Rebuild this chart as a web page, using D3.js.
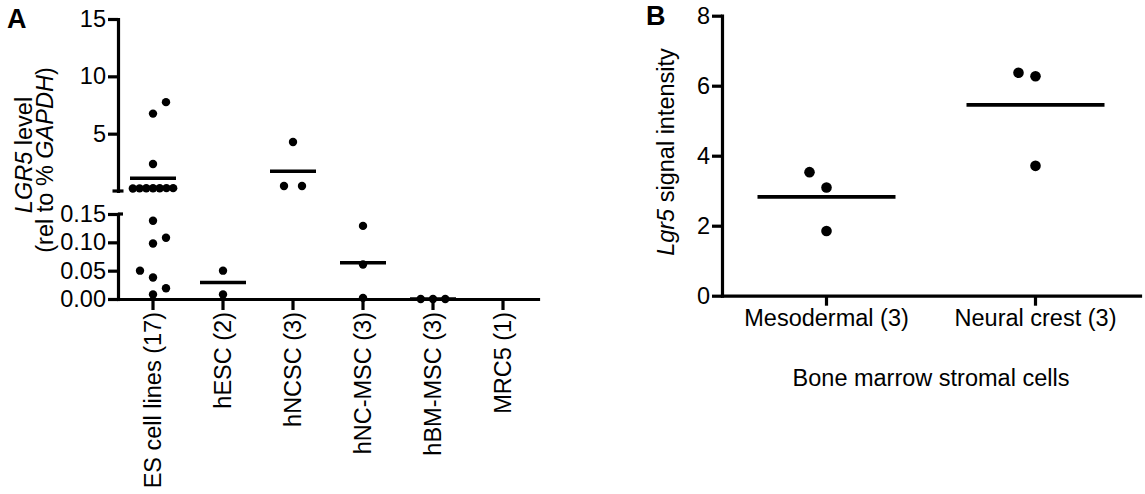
<!DOCTYPE html>
<html>
<head>
<meta charset="utf-8">
<script src="https://cdn.jsdelivr.net/npm/d3@7"></script>
<style>
  body { margin: 0; background: #fff; }
  text { font-family: "Liberation Sans", Arial, sans-serif; fill: #000; }
</style>
</head>
<body>
<div id="chart"></div>
<script>
// panel A: LGR5 level per group (rel to % GAPDH)
let catsA = ["ES cell lines (17)", "hESC (2)", "hNCSC (3)", "hNC-MSC (3)", "hBM-MSC (3)", "MRC5 (1)"];
let esLines = [0.008, 0.019, 0.038, 0.05, 0.098, 0.108, 0.138,
               0.24, 0.23, 0.25, 0.24, 0.22, 0.25, 0.24, 2.35, 6.75, 7.75];
let hESC = [0.008, 0.05];
let hNCSC = [0.44, 0.44, 4.27];
let hNCMSC = [0.002, 0.061, 0.129];
let hBMMSC = [0, 0, 0];
let mrc5 = []; // not detected
let valuesA = [esLines, hESC, hNCSC, hNCMSC, hBMMSC, mrc5];
let ticksHigh = [5, 10, 15];
let ticksLow = [0, 0.05, 0.10, 0.15];

// panel B: Lgr5 signal intensity, bone marrow stromal cells
let catsB = ["Mesodermal (3)", "Neural crest (3)"];
let mesodermal = [1.85, 3.09, 3.53];
let neuralCrest = [3.71, 6.27, 6.37];
let valuesB = [mesodermal, neuralCrest];
let ticksB = [0, 2, 4, 6, 8];

let width = 1145;
let height = 494;
let fontSize = "23.5px";
let lw = 3.2;

let svg = d3.select("#chart").append("svg")
    .attr("width", width)
    .attr("height", height);

function translate (x, y) {
    return `translate(${ x }, ${ y })`;
}

// spread the dots of one column so they do not sit on top of each other
function swarm (vals, y, step, minDist, first) {
    let pts = vals.map(v => ({ v: v, y: y(v), dx: 0 }));
    pts.sort((a, b) => a.v - b.v);
    let placed = [];
    let nearest = (c, yy) => d3.min(placed, q => Math.hypot(q.dx - c, q.y - yy)) ?? Infinity;
    // how crowded a spot is
    let crowd = (c, yy) => d3.sum(placed, q => {
        let d = Math.hypot(q.dx - c, q.y - yy);
        return d < 30 ? 1 / d : 0;
    });
    let i = 0;
    while (i < pts.length) {
        let j = i;
        while (j + 1 < pts.length && Math.abs(pts[j + 1].y - pts[i].y) < 2.5) j++;
        let n = j - i + 1;
        if (n > 1) {
            let sp = 18 / Math.pow(n - 1, 0.55);
            for (let k = 0; k < n; k++) {
                pts[i + k].dx = (k - (n - 1) / 2) * sp;
                placed.push(pts[i + k]);
            }
        } else {
            let p = pts[i];
            if (nearest(0, p.y) >= minDist) {
                p.dx = 0;
            } else {
                for (let s = 1; s <= 3; s++) {
                    let a = first * step * s, b = -a;
                    if (nearest(a, p.y) < minDist && nearest(b, p.y) < minDist) continue;
                    p.dx = (crowd(b, p.y) < crowd(a, p.y) - 0.005) ? b : a;
                    break;
                }
            }
            placed.push(p);
        }
        i = j + 1;
    }
    return pts;
}

function styleAxis (g) {
    g.select(".domain").attr("stroke-width", lw).attr("stroke-linecap", "square");
    g.selectAll(".tick line").attr("stroke-width", lw);
    g.selectAll(".tick text").style("font-size", fontSize).attr("fill", "#000");
    g.attr("font-family", null);
}

function italicLabel (g, x, y, parts) {
    let t = g.append("text")
        .attr("transform", translate(x, y) + " rotate(-90)")
        .attr("text-anchor", "middle")
        .style("font-size", fontSize);
    parts.forEach(p => {
        t.append("tspan").attr("font-style", p[1] ? "italic" : "normal").text(p[0]);
    });
}

// ---------- panel A ----------
let axA = 118;
let xA = d3.scaleBand().domain(catsA).range([axA, 538]);
let yHigh = d3.scaleLinear().domain([0, 15]).range([191, 19]);
let yLow = d3.scaleLinear().domain([0, 0.15]).range([299, 214]);
let yA = v => v <= 0.15 ? yLow(v) : yHigh(v);

let gA = svg.append("g");

gA.append("text").attr("x", 7).attr("y", 28)
    .attr("font-weight", "bold").style("font-size", "27px").text("A");

italicLabel(gA, 32, 155, [["LGR5", true], [" level", false]]);
italicLabel(gA, 53, 160, [["(rel to % ", false], ["GAPDH", true], [")", false]]);

let gHigh = gA.append("g").attr("transform", translate(axA, 0))
    .call(d3.axisLeft(yHigh).tickValues(ticksHigh).tickSize(10).tickSizeOuter(0).tickPadding(2));
styleAxis(gHigh);
let gLow = gA.append("g").attr("transform", translate(axA, 0))
    .call(d3.axisLeft(yLow).tickValues(ticksLow).tickFormat(d3.format(".2f"))
        .tickSize(10).tickSizeOuter(0).tickPadding(2));
styleAxis(gLow);

// caps at the axis break
gA.append("line")
    .attr("x1", axA - 5.5).attr("x2", axA + 5.5)
    .attr("y1", yHigh(0)).attr("y2", yHigh(0))
    .attr("stroke", "#000").attr("stroke-width", lw);
gA.append("line")
    .attr("x1", axA).attr("x2", axA + 5)
    .attr("y1", yLow(0.15)).attr("y2", yLow(0.15))
    .attr("stroke", "#000").attr("stroke-width", lw);

let gxA = gA.append("g").attr("transform", translate(0, yLow(0)))
    .call(d3.axisBottom(xA).tickSize(11).tickSizeOuter(0));
styleAxis(gxA);
gxA.selectAll(".tick text")
    .attr("transform", "rotate(-90)")
    .attr("text-anchor", "end")
    .attr("x", -13)
    .attr("y", 0)
    .attr("dy", "0.35em");

valuesA.forEach((vals, i) => {
    let cx = xA(catsA[i]) + xA.bandwidth() / 2;
    if (vals.length === 0) return;
    let pts = swarm(vals, yA, 13, 14, 1);
    gA.append("g").selectAll("circle").data(pts).enter().append("circle")
        .attr("cx", d => cx + d.dx)
        .attr("cy", d => d.y)
        .attr("r", 4.2)
        .attr("fill", "#000");
    let m = d3.mean(vals);
    gA.append("line")
        .attr("x1", cx - 23).attr("x2", cx + 23)
        .attr("y1", yA(m)).attr("y2", yA(m))
        .attr("stroke", "#000").attr("stroke-width", 3.6);
});

// ---------- panel B ----------
let axB = 722;
let xB = d3.scaleBand().domain(catsB).range([axB, 1140]);
let yB = d3.scaleLinear().domain([0, 8]).range([295.7, 15.7]);

let gB = svg.append("g");

gB.append("text").attr("x", 646).attr("y", 25)
    .attr("font-weight", "bold").style("font-size", "27px").text("B");

italicLabel(gB, 674, 152, [["Lgr5", true], [" signal intensity", false]]);

let gyB = gB.append("g").attr("transform", translate(axB, 0))
    .call(d3.axisLeft(yB).tickValues(ticksB).tickSize(10).tickSizeOuter(0).tickPadding(2));
styleAxis(gyB);

let gxB = gB.append("g").attr("transform", translate(0, yB(0)))
    .call(d3.axisBottom(xB).tickSize(10).tickSizeOuter(0).tickPadding(4));
styleAxis(gxB);

gB.append("text")
    .attr("x", (axB + 1140) / 2)
    .attr("y", 386)
    .attr("text-anchor", "middle")
    .style("font-size", fontSize)
    .text("Bone marrow stromal cells");

valuesB.forEach((vals, i) => {
    let cx = xB(catsB[i]) + xB.bandwidth() / 2;
    let pts = swarm(vals, yB, 17, 17, -1);
    gB.append("g").selectAll("circle").data(pts).enter().append("circle")
        .attr("cx", d => cx + d.dx)
        .attr("cy", d => d.y)
        .attr("r", 5.3)
        .attr("fill", "#000");
    let m = d3.mean(vals);
    gB.append("line")
        .attr("x1", cx - 69).attr("x2", cx + 69)
        .attr("y1", yB(m)).attr("y2", yB(m))
        .attr("stroke", "#000").attr("stroke-width", 3.8);
});
</script>
</body>
</html>
